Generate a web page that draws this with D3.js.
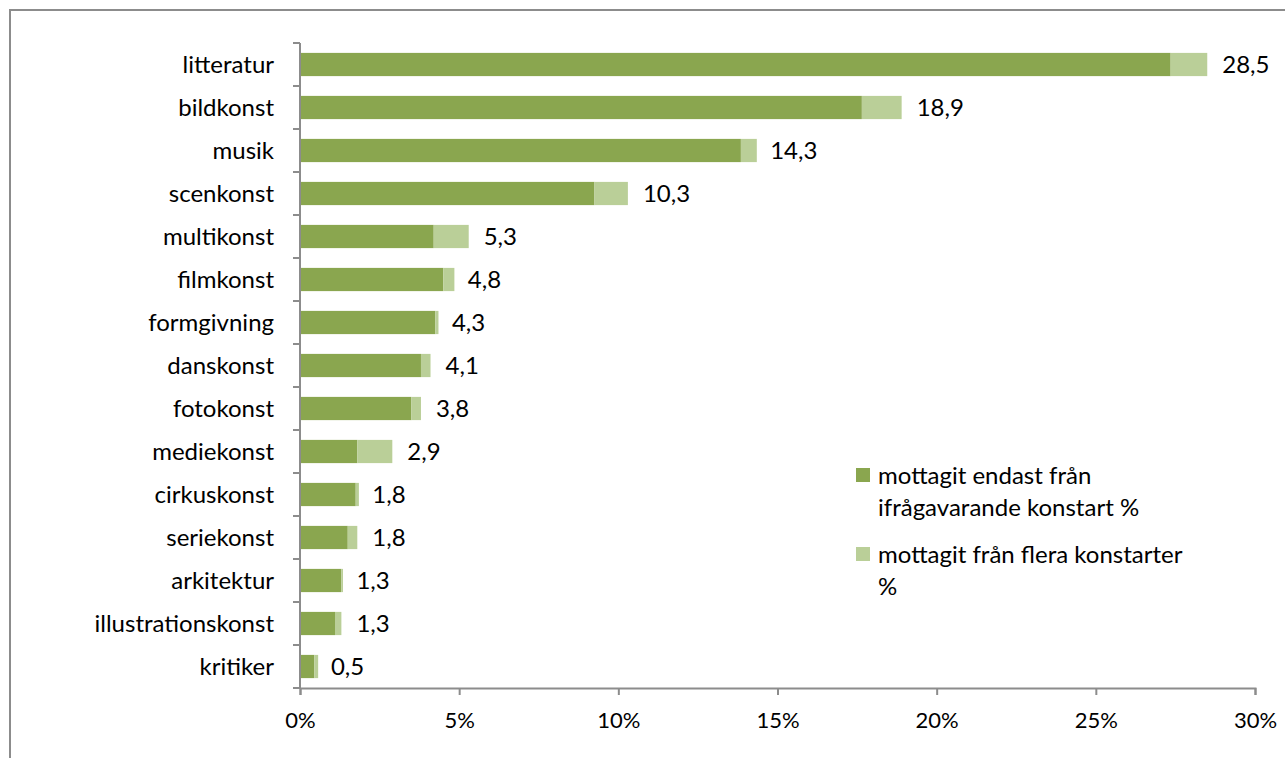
<!DOCTYPE html>
<html lang="sv">
<head>
<meta charset="utf-8">
<script src="https://cdn.jsdelivr.net/npm/d3@7"></script>
<style>
  body { margin: 0; background: #fff; }
  text { font-family: Lato, "Open Sans", sans-serif; fill: #000; }
</style>
</head>
<body>
<div id="chart"></div>
<script>
// categories, top to bottom
const categories = ["litteratur", "bildkonst", "musik", "scenkonst", "multikonst", "filmkonst",
  "formgivning", "danskonst", "fotokonst", "mediekonst", "cirkuskonst", "seriekonst",
  "arkitektur", "illustrationskonst", "kritiker"];
// mottagit endast från ifrågavarande konstart %
const onlyThis = [27.35, 17.65, 13.85, 9.25, 4.2, 4.5, 4.25, 3.8, 3.5, 1.8, 1.75, 1.5, 1.3, 1.1, 0.45];
// mottagit från flera konstarter %
const several = [1.15, 1.25, 0.5, 1.05, 1.1, 0.35, 0.1, 0.3, 0.3, 1.1, 0.1, 0.3, 0.05, 0.2, 0.12];
// totals shown as labels
const totals = ["28,5", "18,9", "14,3", "10,3", "5,3", "4,8", "4,3", "4,1", "3,8", "2,9", "1,8", "1,8", "1,3", "1,3", "0,5"];
const totalValues = [28.5, 18.9, 14.3, 10.3, 5.3, 4.8, 4.3, 4.1, 3.8, 2.9, 1.8, 1.8, 1.3, 1.3, 0.5];
const xTicks = [0, 5, 10, 15, 20, 25, 30];
const seriesNames = [["mottagit endast från", "ifrågavarande konstart %"], ["mottagit från flera konstarter", "%"]];
const colors = ["#8aa64f", "#bacf98"];

const W = 1285, H = 758;
const margin = {top: 43, left: 300, right: 30, bottom: 70};

const svg = d3.select("#chart").append("svg")
  .attr("width", W)
  .attr("height", H);

// chart frame (runs off the right and bottom edges)
svg.append("path")
  .attr("d", "M10,770 L10,10 L1300,10")
  .attr("fill", "none")
  .attr("stroke", "#8c8c8c")
  .attr("stroke-width", 2);

const x = d3.scaleLinear().domain([0, 30]).range([margin.left, 1255]);
const y = d3.scaleBand().domain(categories).range([margin.top, 688]).paddingInner(0.46).paddingOuter(0.23);

// bars
categories.forEach((c, i) => {
  svg.append("rect")
    .attr("x", x(0))
    .attr("y", y(c))
    .attr("width", x(onlyThis[i]) - x(0))
    .attr("height", y.bandwidth())
    .attr("fill", colors[0]);
  svg.append("rect")
    .attr("x", x(onlyThis[i]))
    .attr("y", y(c))
    .attr("width", x(onlyThis[i] + several[i]) - x(onlyThis[i]))
    .attr("height", y.bandwidth())
    .attr("fill", colors[1]);
  svg.append("text")
    .attr("x", x(totalValues[i]) + 15)
    .attr("y", y(c) + y.bandwidth() / 2)
    .attr("dy", "0.36em")
    .style("font-size", "24px")
    .text(totals[i]);
});

// y axis
const yOuter = d3.scaleLinear().domain([0, categories.length]).range([margin.top, 688]);
const yAxis = svg.append("g").attr("transform", "translate(" + x(0) + ",0)");
yAxis.append("line").attr("x1", 0).attr("x2", 0).attr("y1", margin.top).attr("y2", 688)
  .attr("stroke", "#8c8c8c").attr("stroke-width", 2);
yAxis.selectAll(".yt").data(d3.range(categories.length + 1)).join("line")
  .attr("x1", -7).attr("x2", 0)
  .attr("y1", d => yOuter(d)).attr("y2", d => yOuter(d))
  .attr("stroke", "#8c8c8c").attr("stroke-width", 2);
yAxis.selectAll(".yl").data(categories).join("text")
  .attr("x", -26)
  .attr("y", d => y(d) + y.bandwidth() / 2)
  .attr("dy", "0.36em")
  .attr("text-anchor", "end")
  .style("font-size", "24px")
  .text(d => d);

// x axis
const xAxis = svg.append("g").attr("transform", "translate(0,688)")
  .call(d3.axisBottom(x).tickValues(xTicks).tickSize(7).tickPadding(17).tickFormat(d => d + "%"));
xAxis.select(".domain").attr("stroke", "#8c8c8c").attr("stroke-width", 2);
xAxis.selectAll(".tick line").attr("stroke", "#8c8c8c").attr("stroke-width", 2);
xAxis.selectAll(".tick text").style("font-size", "22px").style("font-family", "Lato, sans-serif").attr("fill", "#000");

// legend
const legend = svg.append("g").attr("transform", "translate(856,468)");
seriesNames.forEach((lines, i) => {
  const g = legend.append("g").attr("transform", "translate(0," + (i * 79) + ")");
  g.append("rect").attr("width", 14).attr("height", 14).attr("fill", colors[i]);
  lines.forEach((t, j) => {
    g.append("text")
      .attr("x", 22)
      .attr("y", 7 + j * 32)
      .attr("dy", "0.36em")
      .style("font-size", "24px")
      .text(t);
  });
});
</script>
</body>
</html>
